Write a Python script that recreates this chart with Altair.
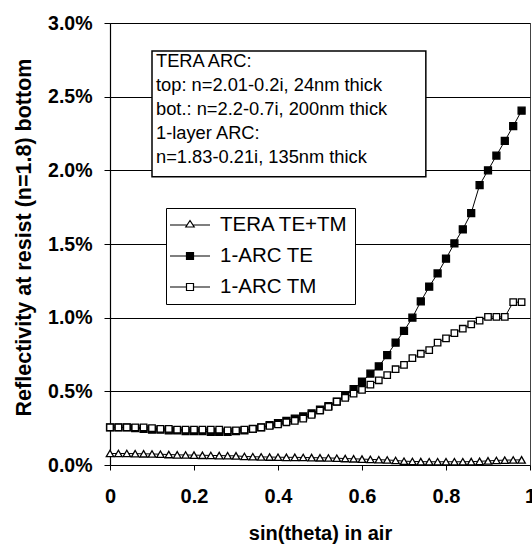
import altair as alt
import pandas as pd

# sin(theta) sample points
sin_theta = [0.00, 0.02, 0.04, 0.06, 0.08, 0.10, 0.12, 0.14, 0.16, 0.18,
             0.20, 0.22, 0.24, 0.26, 0.28, 0.30, 0.32, 0.34, 0.36, 0.38,
             0.40, 0.42, 0.44, 0.46, 0.48, 0.50, 0.52, 0.54, 0.56, 0.58,
             0.60, 0.62, 0.64, 0.66, 0.68, 0.70, 0.72, 0.74, 0.76, 0.78,
             0.80, 0.82, 0.84, 0.86, 0.88, 0.90, 0.92, 0.94, 0.96, 0.98]

# reflectivity at the resist bottom, in percent
tera_te_tm = [0.078, 0.078, 0.078, 0.077, 0.076, 0.075, 0.073, 0.071, 0.069, 0.068,
              0.067, 0.066, 0.065, 0.064, 0.063, 0.062, 0.058, 0.056, 0.055, 0.054,
              0.053, 0.052, 0.052, 0.051, 0.050, 0.049, 0.048, 0.046, 0.044, 0.042,
              0.040, 0.038, 0.036, 0.034, 0.031, 0.026, 0.024, 0.023, 0.022, 0.022,
              0.022, 0.022, 0.022, 0.023, 0.025, 0.028, 0.031, 0.033, 0.034, 0.035]

arc_te = [0.255, 0.255, 0.255, 0.250, 0.245, 0.240, 0.240, 0.235, 0.235, 0.230,
          0.230, 0.230, 0.225, 0.225, 0.225, 0.230, 0.235, 0.245, 0.255, 0.270,
          0.285, 0.300, 0.315, 0.330, 0.350, 0.375, 0.400, 0.430, 0.470, 0.515,
          0.565, 0.620, 0.670, 0.745, 0.830, 0.910, 1.000, 1.110, 1.210, 1.300,
          1.400, 1.505, 1.600, 1.710, 1.900, 2.000, 2.100, 2.200, 2.300, 2.405]

arc_tm = [0.255, 0.255, 0.255, 0.255, 0.255, 0.250, 0.245, 0.245, 0.240, 0.240,
          0.240, 0.240, 0.240, 0.240, 0.235, 0.235, 0.240, 0.245, 0.255, 0.265,
          0.275, 0.290, 0.300, 0.315, 0.340, 0.370, 0.395, 0.430, 0.455, 0.485,
          0.510, 0.545, 0.575, 0.610, 0.650, 0.680, 0.725, 0.755, 0.780, 0.830,
          0.860, 0.895, 0.925, 0.955, 0.980, 1.005, 1.005, 1.005, 1.105, 1.105]

series_names = ["TERA TE+TM", "1-ARC TE", "1-ARC TM"]
marker_shapes = ["triangle-up", "square", "square"]
marker_fills = ["white", "black", "white"]
marker_sizes = [55, 42, 42]
marker_strokes = ["black", "black", "black"]

# legend glyphs: a short line with the marker sitting on it
legend_glyphs = [
    "M-2,0H-0.3M0.3,0H2M0,-0.45L0.42,0.2H-0.42Z",
    "M-2,0H-0.35M0.35,0H2M-0.35,-0.35H0.35V0.35H-0.35Z",
    "M-2,0H-0.35M0.35,0H2M-0.35,-0.35H0.35V0.35H-0.35Z",
]

x_ticks = [0, 0.2, 0.4, 0.6, 0.8, 1]
y_ticks = [0.0, 0.5, 1.0, 1.5, 2.0, 2.5, 3.0]

note_lines = [
    "TERA ARC:",
    "top: n=2.01-0.2i, 24nm thick",
    "bot.: n=2.2-0.7i, 200nm thick",
    "1-layer ARC:",
    "n=1.83-0.21i, 135nm thick",
]

rows = []
for name, values in zip(series_names, [tera_te_tm, arc_te, arc_tm]):
    for s, r in zip(sin_theta, values):
        rows.append({"series": name, "s": s, "r": r})
df = pd.DataFrame(rows)

FONT = "Liberation Sans"

legend = alt.Legend(
    title=None,
    orient="none",
    legendX=56,
    legendY=185,
    direction="vertical",
    strokeColor="black",
    fillColor="white",
    padding=6,
    symbolSize=400,
    symbolOffset=7,
    symbolStrokeColor="black",
    symbolStrokeWidth=1.2,
    symbolOpacity=1,
    labelOffset=19,
    rowPadding=9,
    labelFont=FONT,
    labelFontSize=20.5,
    labelColor="black",
    labelLimit=0,
)

x_enc = alt.X(
    "s:Q",
    scale=alt.Scale(domain=[0, 1], nice=False, zero=False),
    axis=alt.Axis(
        values=x_ticks,
        format="~g",
        title="sin(theta) in air",
        grid=False,
        domain=False,
        ticks=True,
        tickSize=5,
        tickColor="black",
        labelFont=FONT,
        labelFontSize=20,
        labelFontWeight="bold",
        labelColor="black",
        labelPadding=16,
        labelFlush=False,
        titleFont=FONT,
        titleFontSize=20,
        titleFontWeight="bold",
        titleColor="black",
        titleBaseline="alphabetic",
        titleY=74,
    ),
)

y_enc = alt.Y(
    "r:Q",
    scale=alt.Scale(domain=[0, 3], nice=False, zero=False),
    axis=alt.Axis(
        values=y_ticks,
        labelExpr="format(datum.value, '.1f') + '%'",
        title="Reflectivity at resist (n=1.8) bottom",
        grid=True,
        gridColor="black",
        gridWidth=1,
        gridOpacity=1,
        domain=True,
        domainColor="black",
        domainWidth=1.2,
        tickSize=6,
        tickColor="black",
        labelFont=FONT,
        labelFontSize=19.5,
        labelFontWeight="bold",
        labelColor="black",
        labelPadding=12,
        labelFlush=False,
        titleFont=FONT,
        titleFontSize=21.5,
        titleFontWeight="bold",
        titleColor="black",
        titleAngle=-90,
        titleAlign="center",
        titleBaseline="middle",
        titleX=-86,
        titleY=214,
    ),
)

lines = alt.Chart(df).mark_line(color="black", strokeWidth=1).encode(
    x=x_enc,
    y=y_enc,
    detail="series:N",
    order="s:Q",
)

points = alt.Chart(df).mark_point(
    stroke="black", strokeWidth=1.3, opacity=1, fillOpacity=1
).encode(
    x=x_enc,
    y=y_enc,
    shape=alt.Shape("series:N", scale=alt.Scale(domain=series_names, range=marker_shapes), legend=None),
    fill=alt.Fill("series:N", scale=alt.Scale(domain=series_names, range=marker_fills), legend=None),
    size=alt.Size("series:N", scale=alt.Scale(domain=series_names, range=marker_sizes), legend=None),
)

# transparent copy of the points that only carries the legend glyphs
legend_layer = alt.Chart(df).mark_point(
    strokeWidth=1.2, opacity=0
).encode(
    x=x_enc,
    y=y_enc,
    shape=alt.Shape("series:N", scale=alt.Scale(domain=series_names, range=legend_glyphs), legend=legend),
    fill=alt.Fill("series:N", scale=alt.Scale(domain=series_names, range=marker_fills), legend=legend),
    stroke=alt.Stroke("series:N", scale=alt.Scale(domain=series_names, range=marker_strokes), legend=legend),
)

note_src = pd.DataFrame({"k": [0]})

note_box = alt.Chart(note_src).mark_rect(
    fill="white", stroke="black", strokeWidth=1.5
).encode(
    x=alt.datum(0.1),
    x2=alt.datum(0.752),
    y=alt.datum(2.81),
    y2=alt.datum(1.957),
)

note_text = alt.Chart(note_src).mark_text(
    align="left", baseline="top", font=FONT, fontSize=18.3, lineHeight=24,
    color="black", dx=4, dy=2,
).encode(
    x=alt.datum(0.1),
    y=alt.datum(2.81),
    text=alt.value(note_lines),
)

chart = alt.layer(lines, points, legend_layer, note_box, note_text).resolve_scale(
    shape="independent", fill="independent", stroke="independent"
).properties(
    width=420,
    height=442,
    padding={"left": 110, "top": 23, "right": 2, "bottom": 81},
    autosize=alt.AutoSizeParams(type="none"),
    background="white",
).configure_view(
    stroke="#444", strokeWidth=1
)

chart.save("out.html", embed_options={"renderer": "svg", "actions": False})
